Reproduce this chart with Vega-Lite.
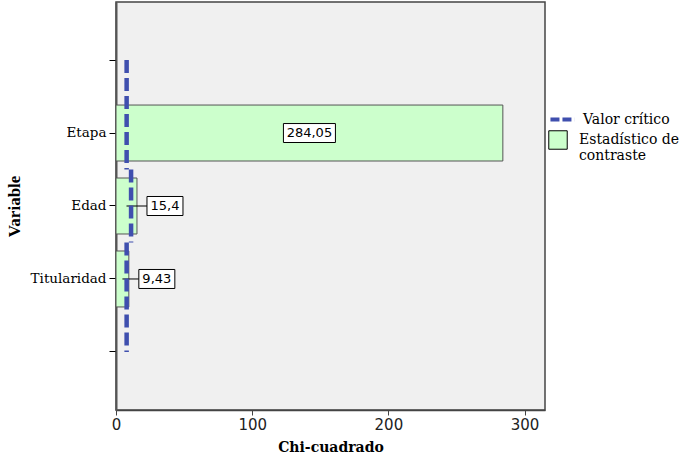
{
  "$schema": "https://vega.github.io/schema/vega-lite/v6.json",
  "width": 429,
  "height": 408,
  "autosize": {"type": "none"},
  "padding": {"left": 116, "top": 2, "right": 137, "bottom": 50},
  "background": "white",
  "config": {
    "view": {"fill": "#F0F0F0", "stroke": "#444", "strokeWidth": 1.5},
    "locale": {
      "number": {"decimal": ",", "thousands": ".", "grouping": [3], "currency": ["", " €"]}
    },
    "axis": {"grid": false}
  },
  "datasets": {
    "chi": [
      {"Variable": "Etapa", "Chi": 284.05},
      {"Variable": "Edad", "Chi": 15.4},
      {"Variable": "Titularidad", "Chi": 9.43}
    ],
    "critico": [
      {"Variable": "Etapa", "Valor": 7.81},
      {"Variable": "Edad", "Valor": 11.07},
      {"Variable": "Titularidad", "Valor": 7.81}
    ]
  },
  "encoding": {
    "y": {
      "field": "Variable",
      "type": "nominal",
      "title": "Variable",
      "scale": {
        "domain": ["sup", "Etapa", "Edad", "Titularidad", "inf"],
        "paddingInner": 0.233,
        "paddingOuter": 0.412
      },
      "axis": {
        "labelExpr": "datum.value == 'sup' || datum.value == 'inf' ? '' : datum.value",
        "labelFont": "DejaVu Serif",
        "labelFontSize": 13.5,
        "labelColor": "black",
        "labelPadding": 3,
        "tickColor": "black",
        "tickSize": 7,
        "domainColor": "#555",
        "domainWidth": 2,
        "titleFont": "Liberation Serif",
        "titleFontSize": 17,
        "titleFontWeight": "bold",
        "titleColor": "black",
        "titleAngle": -90,
        "titleX": -102,
        "titleY": 204,
        "titleAlign": "center",
        "titleBaseline": "middle"
      }
    }
  },
  "layer": [
    {
      "data": {"name": "chi"},
      "mark": {"type": "bar", "stroke": "#555", "strokeWidth": 1},
      "encoding": {
        "x": {
          "field": "Chi",
          "type": "quantitative",
          "title": "Chi-cuadrado",
          "scale": {"domain": [0, 315], "nice": false},
          "axis": {
            "values": [0, 100, 200, 300],
            "labelFlush": false,
            "labelFont": "DejaVu Sans",
            "labelFontSize": 15,
            "labelColor": "#222",
            "labelPadding": 2,
            "tickColor": "#444",
            "tickSize": 5,
            "domainColor": "#444",
            "domainWidth": 1.5,
            "titleFont": "DejaVu Serif",
            "titleFontSize": 14,
            "titleFontWeight": "bold",
            "titleColor": "black",
            "titlePadding": 8
          }
        },
        "fill": {
          "datum": "Estadístico de contraste",
          "type": "nominal",
          "scale": {"range": ["#CCFFCC"]},
          "legend": {
            "title": null,
            "orient": "none",
            "legendX": 432,
            "legendY": 128,
            "symbolType": "square",
            "symbolSize": 340,
            "symbolStrokeColor": "black",
            "symbolStrokeWidth": 1,
            "labelFont": "DejaVu Serif",
            "labelFontSize": 14,
            "labelColor": "black",
            "labelOffset": 11,
            "labelExpr": "['Estadístico de', 'contraste']"
          }
        }
      }
    },
    {
      "data": {"name": "chi"},
      "transform": [
        {"filter": "datum.Variable != 'Etapa'"},
        {"calculate": "datum.Chi / 2", "as": "mitad"}
      ],
      "mark": {"type": "rule", "color": "black", "strokeWidth": 1, "x2Offset": 10},
      "encoding": {
        "x": {"field": "mitad", "type": "quantitative", "title": "Chi-cuadrado"},
        "x2": {"field": "Chi"}
      }
    },
    {
      "data": {"name": "critico"},
      "mark": {
        "type": "rule",
        "strokeWidth": 4.5,
        "strokeDash": [13, 5],
        "yOffset": {"expr": "datum.Variable === 'Etapa' ? -73 : -36.5"},
        "y2Offset": {"expr": "datum.Variable === 'Titularidad' ? 73 : 36.5"}
      },
      "encoding": {
        "x": {"field": "Valor", "type": "quantitative", "title": "Chi-cuadrado"},
        "y2": {"field": "Variable"},
        "color": {
          "datum": "Valor crítico",
          "type": "nominal",
          "scale": {"range": ["#3F4FAE"]},
          "legend": {
            "title": null,
            "orient": "none",
            "legendX": 432,
            "legendY": 103,
            "symbolType": "stroke",
            "symbolSize": 580,
            "symbolStrokeWidth": 4,
            "symbolDash": [9, 3],
            "labelFont": "DejaVu Serif",
            "labelFontSize": 14,
            "labelColor": "black",
            "labelOffset": 6
          }
        }
      }
    },
    {
      "data": {"name": "chi"},
      "transform": [
        {"filter": "datum.Variable == 'Etapa'"},
        {"calculate": "datum.Chi / 2", "as": "mitad"}
      ],
      "mark": {
        "type": "point",
        "shape": "M-1,-0.365L1,-0.365L1,0.365L-1,0.365Z",
        "size": 2704,
        "filled": true,
        "fill": "white",
        "stroke": "black",
        "strokeWidth": 1,
        "opacity": 1
      },
      "encoding": {
        "x": {"field": "mitad", "type": "quantitative", "title": "Chi-cuadrado"}
      }
    },
    {
      "data": {"name": "chi"},
      "transform": [{"filter": "datum.Variable != 'Etapa'"}],
      "mark": {
        "type": "point",
        "shape": "M-1,-0.528L1,-0.528L1,0.528L-1,0.528Z",
        "size": 1296,
        "filled": true,
        "fill": "white",
        "stroke": "black",
        "strokeWidth": 1,
        "opacity": 1,
        "xOffset": 28
      },
      "encoding": {
        "x": {"field": "Chi", "type": "quantitative", "title": "Chi-cuadrado"}
      }
    },
    {
      "data": {"name": "chi"},
      "transform": [
        {"filter": "datum.Variable == 'Etapa'"},
        {"calculate": "datum.Chi / 2", "as": "mitad"}
      ],
      "mark": {"type": "text", "font": "DejaVu Sans", "fontSize": 13, "color": "black"},
      "encoding": {
        "x": {"field": "mitad", "type": "quantitative", "title": "Chi-cuadrado"},
        "text": {"field": "Chi", "type": "quantitative", "format": ".2~f"}
      }
    },
    {
      "data": {"name": "chi"},
      "transform": [{"filter": "datum.Variable != 'Etapa'"}],
      "mark": {"type": "text", "font": "DejaVu Sans", "fontSize": 13, "color": "black", "xOffset": 28},
      "encoding": {
        "x": {"field": "Chi", "type": "quantitative", "title": "Chi-cuadrado"},
        "text": {"field": "Chi", "type": "quantitative", "format": ".2~f"}
      }
    }
  ]
}
